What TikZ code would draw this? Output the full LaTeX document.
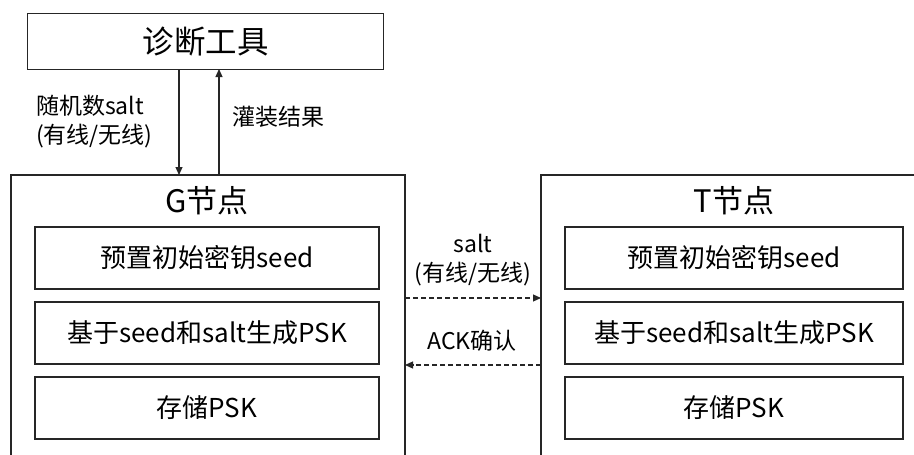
\documentclass[tikz,border=0pt]{standalone}
\usepackage{fontspec}
\setmainfont{Noto Sans CJK SC}
\usetikzlibrary{arrows.meta}
\begin{document}
\begin{tikzpicture}[x=1pt,y=-1pt,
  box/.style={draw=black!85, line width=1.2pt},
  inner/.style={draw=black!85, line width=1.2pt, minimum width=344pt, minimum height=62pt, inner sep=0pt, font=\fontsize{26}{29}\selectfont},
  conn/.style={draw=black!85, line width=1.1pt, -{Triangle[length=8pt,width=7pt]}},
  dconn/.style={conn, dash pattern=on 5pt off 3pt},
  lbl/.style={inner sep=0pt, font=\fontsize{23}{29}\selectfont, align=center},
  title/.style={inner sep=0pt, font=\fontsize{31}{34}\selectfont}]
\useasboundingbox (0,0) rectangle (914,455);
\fill[white] (0,0) rectangle (914,455);
% diagnostic tool
\node[box, minimum width=356pt, minimum height=56pt, inner sep=0pt, anchor=north west, font=\fontsize{31.5}{34}\selectfont] (tool) at (27,13) {诊断工具};
% G node container (open at bottom)
\coordinate (gtl) at (11,175);
\coordinate (gtr) at (405,175);
\draw[box] (11,470) -- (gtl) -- (gtr) -- (405,470);
\node[title] (gtitle) at (207,201) {G节点};
\node[inner] (g1) at (207,258) {预置初始密钥seed};
\node[inner] (g2) at (207,333) {基于seed和salt生成PSK};
\node[inner] (g3) at (207,408) {存储PSK};
% T node container (open at bottom and right)
\coordinate (ttl) at (541,175);
\draw[box] (541,470) -- (ttl) -- (930,175);
\node[title] (ttitle) at (734,201) {T节点};
\node[inner, minimum width=338pt] (t1) at (734,258) {预置初始密钥seed};
\node[inner, minimum width=338pt] (t2) at (734,333) {基于seed和salt生成PSK};
\node[inner, minimum width=338pt] (t3) at (734,408) {存储PSK};
% tool <-> G
\coordinate (dtop) at (179,69);
\coordinate (dbot) at (179,175);
\coordinate (utop) at (219,69);
\coordinate (ubot) at (219,175);
\draw[conn] (dtop) -- (dbot);
\draw[conn] (ubot) -- (utop);
\node[lbl, align=left, anchor=west] (l1) at (36,122) {随机数salt\\(有线/无线)};
\node[lbl, anchor=west] (l2) at (232,117) {灌装结果};
% G <-> T
\coordinate (a1s) at (405,298);
\coordinate (a1e) at (541,298);
\coordinate (a2s) at (541,365);
\coordinate (a2e) at (405,365);
\draw[dconn] (a1s) -- (a1e);
\draw[dconn] (a2s) -- (a2e);
\node[lbl] (s1) at (473,243) {salt};
\node[lbl] (s2) at (473,274) {(有线/无线)};
\node[lbl] (ack) at (472,341) {ACK确认};
\end{tikzpicture}
\end{document}
